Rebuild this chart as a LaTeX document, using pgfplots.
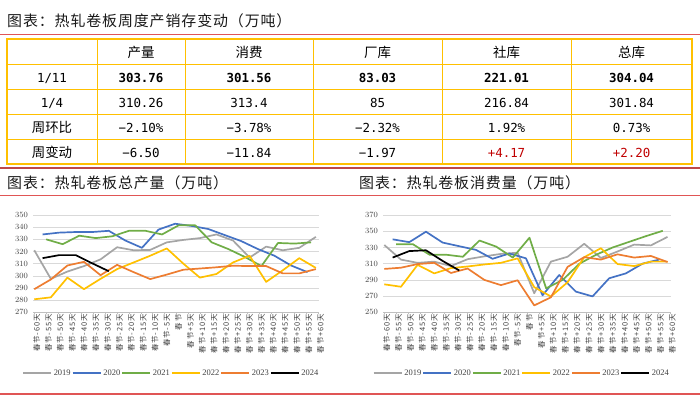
\documentclass[border=0pt]{standalone}
\usepackage{fontspec}
\usepackage{pgfplots}
\pgfplotsset{compat=1.18}
\setmainfont{Liberation Serif}
\newfontfamily\cjk{Noto Sans CJK SC}
\newfontfamily\cjkt{Noto Sans CJK SC}[LetterSpace=6]
\newfontfamily\cjkls{Noto Sans CJK SC}[LetterSpace=10]
\newfontfamily\mono{DejaVu Sans Mono}
\definecolor{c19}{HTML}{A5A5A5}
\definecolor{c20}{HTML}{4472C4}
\definecolor{c21}{HTML}{70AD47}
\definecolor{c22}{HTML}{FFC000}
\definecolor{c23}{HTML}{ED7D31}
\definecolor{c24}{HTML}{000000}
\definecolor{gold}{HTML}{FFC000}
\definecolor{redline}{HTML}{E05555}
\definecolor{darkred}{HTML}{C00000}
\definecolor{gridc}{HTML}{D9D9D9}
\definecolor{axc}{HTML}{BFBFBF}
\definecolor{txt}{HTML}{404040}
\newcommand{\tfont}{\cjkt\fontsize{15}{15}\selectfont}
\newcommand{\nfont}{\mono\fontsize{12.5}{12.5}\selectfont}
\newcommand{\hfont}{\cjk\fontsize{13.5}{13.5}\selectfont}
\pgfplotsset{
  chart/.style={
    anchor=south west, scale only axis, height=97.3bp,
    xmin=-0.1, xmax=24.1,
    axis x line*=bottom, axis y line*=left,
    x axis line style={draw=axc, line width=0.6bp},
    y axis line style={draw=none},
    xtick={0,...,24},
    xticklabels={春节-60天,春节-55天,春节-50天,春节-45天,春节-40天,春节-35天,春节-30天,春节-25天,春节-20天,春节-15天,春节-10天,春节-5天,春节,春节+5天,春节+10天,春节+15天,春节+20天,春节+25天,春节+30天,春节+35天,春节+40天,春节+45天,春节+50天,春节+55天,春节+60天},
    xtick align=outside, major tick length=2bp,
    xtick style={draw=axc, line width=0.5bp},
    ytick style={draw=none},
    xticklabel style={rotate=90, anchor=east, inner sep=0pt, font=\cjkls\fontsize{7.5}{7.5}\selectfont, text=txt, yshift=-2.4bp},
    yticklabel style={inner sep=0pt, xshift=-5bp, font=\fontsize{8.5}{9}\selectfont, text=txt},
    ymajorgrids, grid style={gridc, line width=0.6bp},
    clip=false,
    every axis plot/.append style={line width=1.7bp, line join=round, mark=none},
    legend image code/.code={\draw[#1, line width=2.1bp] (0bp,0bp) -- (28bp,0bp);},
    legend columns=6,
    legend style={draw=none, fill=none, inner sep=0pt, font=\fontsize{8.5}{8.5}\selectfont, text=txt,
      nodes={inner sep=0.5bp},
      /tikz/every odd column/.append style={column sep=1bp},
      /tikz/every even column/.append style={column sep=0.5bp}},
  }
}
\begin{document}
\begin{tikzpicture}
\path[use as bounding box] (0bp,0bp) rectangle (700bp,398bp);
% titles and rules
\node[anchor=base west, inner sep=0, font=\tfont, text=black!90] at (7bp,371bp) {图表：热轧卷板周度产销存变动（万吨）};
\draw[redline, line width=0.8bp] (0bp,364bp) -- (700bp,364bp);
\draw[redline!85!black, line width=1.2bp] (0bp,230bp) -- (700bp,230bp);
\node[anchor=base west, inner sep=0, font=\tfont, text=black!90] at (7bp,209bp) {图表：热轧卷板总产量（万吨）};
\node[anchor=base west, inner sep=0, font=\tfont, text=black!90] at (359bp,209bp) {图表：热轧卷板消费量（万吨）};
\draw[redline, line width=0.8bp] (0bp,203bp) -- (700bp,203bp);
\draw[redline, line width=1.2bp] (0bp,4bp) -- (700bp,4bp);
% table grid
\foreach \r in {334bp,309bp,284bp,259bp} {\draw[gold, line width=0.8bp] (7bp,\r) -- (692bp,\r);}
\foreach \c in {97bp,185bp,313bp,442bp,571bp} {\draw[gold, line width=0.8bp] (\c,359bp) -- (\c,234bp);}
\draw[gold, line width=1.3bp] (7bp,359bp) rectangle (692bp,234bp);
% header
\foreach \x/\t in {141bp/产量,249bp/消费,377.5bp/厂库,506.5bp/社库,631.5bp/总库} {
  \node[anchor=base, inner sep=0, font=\hfont] at (\x,340bp) {\t};}
% row labels
\node[anchor=base, inner sep=0, font=\nfont] at (52bp,315.3bp) {1/11};
\node[anchor=base, inner sep=0, font=\nfont] at (52bp,290.3bp) {1/4};
\node[anchor=base, inner sep=0, font=\hfont] at (52bp,265.5bp) {周环比};
\node[anchor=base, inner sep=0, font=\hfont] at (52bp,240.5bp) {周变动};
% row 1 (bold)
\foreach \x/\t in {141bp/303.76,249bp/301.56,377.5bp/83.03,506.5bp/221.01,631.5bp/304.04} {
  \node[anchor=base, inner sep=0, font=\nfont\bfseries] at (\x,315.3bp) {\t};}
% row 2
\foreach \x/\t in {141bp/310.26,249bp/313.4,377.5bp/85,506.5bp/216.84,631.5bp/301.84} {
  \node[anchor=base, inner sep=0, font=\nfont] at (\x,290.3bp) {\t};}
% row 3
\foreach \x/\t in {141bp/−2.10\%,249bp/−3.78\%,377.5bp/−2.32\%,506.5bp/1.92\%,631.5bp/0.73\%} {
  \node[anchor=base, inner sep=0, font=\nfont] at (\x,265.3bp) {\t};}
% row 4
\foreach \x/\t in {141bp/−6.50,249bp/−11.84,377.5bp/−1.97} {
  \node[anchor=base, inner sep=0, font=\nfont] at (\x,240.3bp) {\t};}
\node[anchor=base, inner sep=0, font=\nfont, text=darkred] at (506.5bp,240.3bp) {+4.17};
\node[anchor=base, inner sep=0, font=\nfont, text=darkred] at (631.5bp,240.3bp) {+2.20};

% ---------------- production chart
\begin{axis}[chart, at={(33.1bp,85.7bp)}, width=286.3bp,
  ymin=270, ymax=350, ytick={270,280,...,350},
  legend style={at={(0.48,-0.624)}, anchor=center}]
\addplot[c19] coordinates {(0,321) (1.4,297.5) (2.8,303.5) (4.2,308) (5.6,313.5) (7.0,323.5) (8.4,321) (9.8,321.3) (11.2,327.5) (12.6,329.5) (14.0,331) (15.4,334) (16.8,329) (18.2,315) (19.6,324) (21.0,321) (22.4,323) (23.8,332)};
\addplot[c20] coordinates {(0.7,334) (2.1,335.5) (3.5,336) (4.9,336) (6.3,337) (7.7,329) (9.1,323) (10.5,338) (11.9,342.8) (13.3,341) (14.7,338.5) (16.1,333.5) (17.5,328.5) (18.9,322) (20.3,316.5) (21.7,308.5) (23.1,303)};
\addplot[c21] coordinates {(1.0,330) (2.4,326) (3.8,333) (5.2,331) (6.6,332.5) (8.0,337) (9.4,337) (10.8,334) (12.2,341.5) (13.6,341.5) (15.0,327.5) (16.4,322) (17.8,315.5) (19.2,308) (20.6,327) (22.0,326.5) (23.4,327.5)};
\addplot[c22] coordinates {(0,280.7) (1.4,282.3) (2.8,298.5) (4.2,289) (5.6,297.5) (7.0,305.5) (8.4,311) (9.8,316.5) (11.2,322.5) (12.6,310) (14.0,298.5) (15.4,301.5) (16.8,311) (18.2,316.5) (19.6,295) (21.0,304.5) (22.4,314.5) (23.8,306.5)};
\addplot[c23] coordinates {(0,289) (1.4,297) (2.8,308.5) (4.2,311.5) (5.6,300.5) (7.0,309) (8.4,303) (9.8,297.3) (11.2,301) (12.6,305) (14.0,306) (15.4,307) (16.8,308.3) (18.2,308) (19.6,308) (21.0,302) (22.4,302) (23.8,305.5)};
\addplot[c24] coordinates {(0.7,314.5) (2.1,317) (3.5,317) (4.9,310.26) (6.3,303.76)};
\legend{2019,2020,2021,2022,2023,2024}
\end{axis}

% ---------------- consumption chart
\begin{axis}[chart, at={(383.1bp,85.7bp)}, width=288bp,
  ymin=250, ymax=370, ytick={250,270,...,370},
  legend style={at={(0.479,-0.624)}, anchor=center}]
\addplot[c19] coordinates {(0,333) (1.4,315) (2.8,311) (4.2,312.5) (5.6,307) (7.0,315.5) (8.4,319) (9.8,322) (11.2,323.5) (12.6,273.5) (14.0,312.5) (15.4,318.5) (16.8,334.5) (18.2,317) (19.6,325) (21.0,333.5) (22.4,332.5) (23.8,343)};
\addplot[c20] coordinates {(0.7,340) (2.1,336.5) (3.5,349.4) (4.9,336) (6.3,331.5) (7.7,327) (9.1,316) (10.5,322.5) (11.9,316.6) (13.3,271) (14.7,296) (16.1,275.5) (17.5,269.6) (18.9,292) (20.3,298) (21.7,310) (23.1,315)};
\addplot[c21] coordinates {(1.0,334) (2.4,334) (3.8,321) (5.2,321) (6.6,318.5) (8.0,338.5) (9.4,331) (10.8,317.5) (12.2,342) (13.6,279.5) (15.0,290) (16.4,310) (17.8,321) (19.2,330) (20.6,337) (22.0,344) (23.4,350.5)};
\addplot[c22] coordinates {(0,284.5) (1.4,281.5) (2.8,308.5) (4.2,298) (5.6,304.5) (7.0,306.5) (8.4,309) (9.8,311) (11.2,316.5) (12.6,281) (14.0,269.5) (15.4,287) (16.8,318) (18.2,329) (19.6,309.5) (21.0,307) (22.4,312.5) (23.8,312.5)};
\addplot[c23] coordinates {(0,303.5) (1.4,305) (2.8,309.5) (4.2,311) (5.6,298.5) (7.0,304) (8.4,290) (9.8,283.5) (11.2,289.5) (12.6,258.5) (14.0,268.5) (15.4,306) (16.8,318) (18.2,315) (19.6,321.5) (21.0,317.5) (22.4,319.5) (23.8,312)};
\addplot[c24] coordinates {(0.7,317.5) (2.1,325.5) (3.5,326.5) (4.9,313.4) (6.3,301.56)};
\legend{2019,2020,2021,2022,2023,2024}
\end{axis}
\end{tikzpicture}
\end{document}
